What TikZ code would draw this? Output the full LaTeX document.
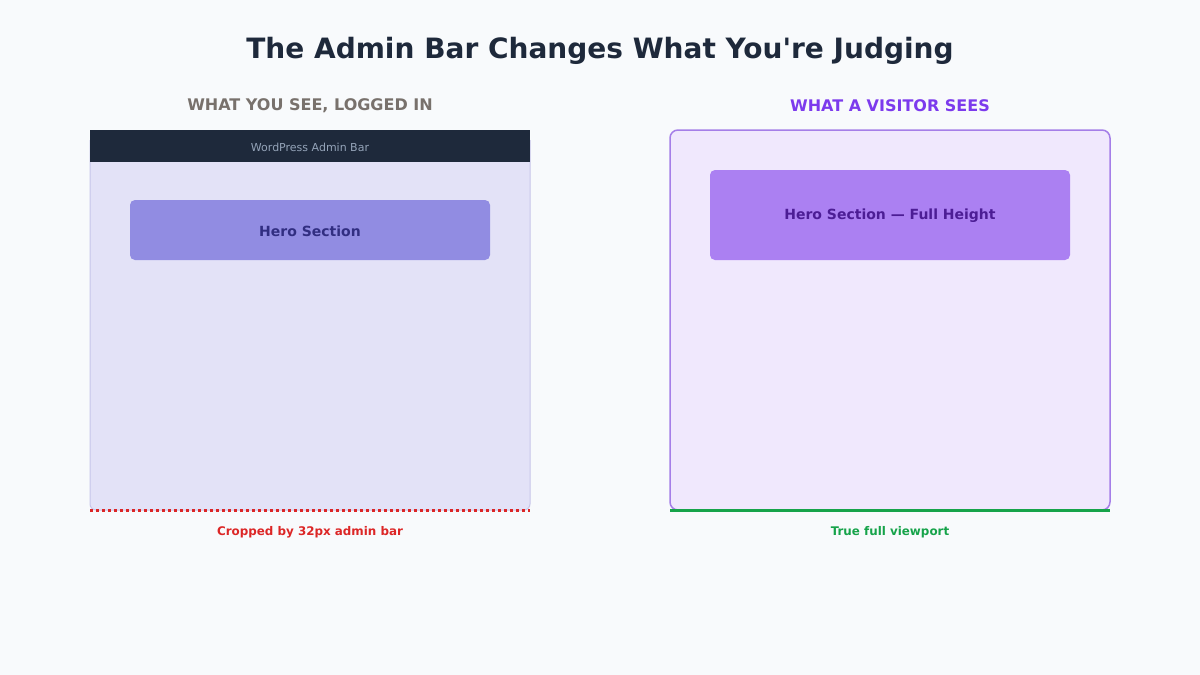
\documentclass[tikz,border=0pt]{standalone}
\usepackage{fontspec}
\setmainfont{DejaVu Sans}
\definecolor{bg}{HTML}{F8FAFC}
\definecolor{dark}{HTML}{1E293B}
\definecolor{lbody}{HTML}{E3E2F7}
\definecolor{lborder}{HTML}{C7C6EA}
\definecolor{lhero}{HTML}{918CE2}
\definecolor{lherotxt}{HTML}{312E81}
\definecolor{rbody}{HTML}{F0E8FD}
\definecolor{rborder}{HTML}{A57EE8}
\definecolor{rhero}{HTML}{AB80F2}
\definecolor{rherotxt}{HTML}{4C1D95}
\definecolor{gray1}{HTML}{78716C}
\definecolor{purple1}{HTML}{7C3AED}
\definecolor{red1}{HTML}{DC2626}
\definecolor{green1}{HTML}{16A34A}
\definecolor{bartxt}{HTML}{94A3B8}
\begin{document}
\begin{tikzpicture}[x=1pt,y=-1pt,
  hdr/.style={font=\fontsize{16}{19}\selectfont\bfseries},
  captxt/.style={font=\fontsize{11.9}{14}\selectfont\bfseries},
  herotxt/.style={font=\fontsize{14}{17}\selectfont\bfseries}]
\fill[bg] (0,0) rectangle (1200,675);
\useasboundingbox (0,0) rectangle (1200,675);
\node[font=\fontsize{28}{32}\selectfont\bfseries,text=dark] (title) at (600,51) {The Admin Bar Changes What You\textquotesingle re Judging};
\node[hdr,text=gray1] (lh) at (310,106) {WHAT YOU SEE, LOGGED IN};
\node[hdr,text=purple1] (rh) at (890,106) {WHAT A VISITOR SEES};
% left
\draw[lborder,fill=lbody,line width=1,rounded corners=6] (90,140) -- (90,510) -- (530,510) -- (530,140);
\fill[dark] (90,130) rectangle (530,162);
\node[font=\fontsize{11}{13}\selectfont,text=bartxt] (bar) at (310,147) {WordPress Admin Bar};
\fill[lhero,rounded corners=5] (130,200) rectangle (490,260);
\node[herotxt,text=lherotxt] (lhero) at (310,231) {Hero Section};
\coordinate (l1) at (90,510); \coordinate (l2) at (530,510);
\draw[red1,line width=3,dash pattern=on 3 off 3] (l1) -- (l2);
\node[captxt,text=red1] (lc) at (310,532) {Cropped by 32px admin bar};
% right
\draw[rborder,fill=rbody,line width=1.5,rounded corners=8] (670,130) rectangle (1110,510);
\fill[rhero,rounded corners=5] (710,170) rectangle (1070,260);
\node[herotxt,text=rherotxt] (rhero) at (890,216) {Hero Section — Full Height};
\coordinate (r1) at (670,510); \coordinate (r2) at (1110,510);
\draw[green1,line width=3] (r1) -- (r2);
\node[captxt,text=green1] (rc) at (890,532) {True full viewport};
\end{tikzpicture}
\end{document}
